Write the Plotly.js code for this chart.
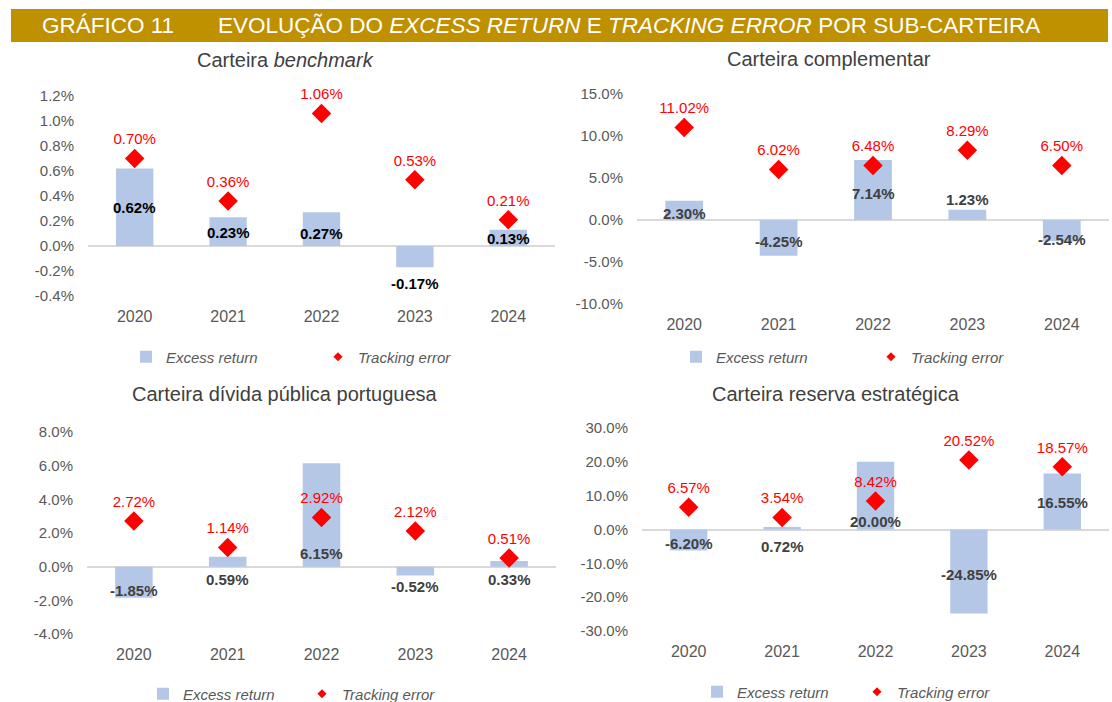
<!DOCTYPE html>
<html>
<head>
<meta charset="utf-8">
<script src="https://cdn.plot.ly/plotly-3.0.1.min.js"></script>
<style>
html,body{margin:0;padding:0;background:#fff;overflow:hidden;}
#chart{width:1112px;height:702px;}
</style>
</head>
<body>
<div id="chart"></div>
<script>
// ---------- DATA ----------
const years = ['2020', '2021', '2022', '2023', '2024'];

const erBenchmark = [0.62, 0.23, 0.27, -0.17, 0.13];
const teBenchmark = [0.70, 0.36, 1.06, 0.53, 0.21];

const erComplementar = [2.30, -4.25, 7.14, 1.23, -2.54];
const teComplementar = [11.02, 6.02, 6.48, 8.29, 6.50];

const erDivida = [-1.85, 0.59, 6.15, -0.52, 0.33];
const teDivida = [2.72, 1.14, 2.92, 2.12, 0.51];

const erReserva = [-6.20, 0.72, 20.00, -24.85, 16.55];
const teReserva = [6.57, 3.54, 8.42, 20.52, 18.57];

const ticksBenchmark = [-0.4, -0.2, 0.0, 0.2, 0.4, 0.6, 0.8, 1.0, 1.2];
const ticksComplementar = [-10, -5, 0, 5, 10, 15];
const ticksDivida = [-4, -2, 0, 2, 4, 6, 8];
const ticksReserva = [-30, -20, -10, 0, 10, 20, 30];

const panelTitles = ['Carteira <i>benchmark</i>', 'Carteira complementar',
  'Carteira dívida pública portuguesa', 'Carteira reserva estratégica'];
const seriesNames = ['<i>Excess return</i>', '<i>Tracking error</i>'];
const mainTitleLeft = 'GRÁFICO 11';
const mainTitleRight = 'EVOLUÇÃO DO <i>EXCESS RETURN</i> E <i>TRACKING ERROR</i> POR SUB-CARTEIRA';

// ---------- STYLE / LAYOUT CONFIG ----------
const W = 1112, H = 702;
const px = v => v / W;
const py = v => 1 - v / H;

const panels = [
  { er: erBenchmark, te: teBenchmark, ticks: ticksBenchmark, dec: 1,
    xd: [88, 555], yd: [96, 296], titleX: 285, titleY: 60, erColor: '#000000',
    shifts: [0, -1, -4, -27, -1], legX: 148, legY: 357, legW: 147 },
  { er: erComplementar, te: teComplementar, ticks: ticksComplementar, dec: 1,
    xd: [637, 1109], yd: [94, 304], titleX: 829, titleY: 59, erColor: '#404040',
    shifts: [-3, -4, -3, 15, -9], legX: 698, legY: 357, legW: 150 },
  { er: erDivida, te: teDivida, ticks: ticksDivida, dec: 1,
    xd: [87, 556], yd: [432, 634], titleX: 285, titleY: 394, erColor: '#404040',
    shifts: [-8, -18, -39, -15, -16], legX: 165, legY: 694, legW: 114 },
  { er: erReserva, te: teReserva, ticks: ticksReserva, dec: 1,
    xd: [642, 1109], yd: [428, 631], titleX: 836, titleY: 394, erColor: '#404040',
    shifts: [-4, -18, -26, -3, -1], legX: 719, legY: 692, legW: 115 }
];

const barColor = '#B4C7E7';
const red = '#FF0000';
const gold = '#BF9000';
const FONT = 'Liberation Sans, Arial, sans-serif';

const traces = [];
const layout = {
  width: W, height: H,
  margin: { l: 0, r: 0, t: 0, b: 0, autoexpand: false },
  paper_bgcolor: '#ffffff', plot_bgcolor: '#ffffff',
  showlegend: true,
  bargap: 0.6,
  font: { family: FONT, color: '#595959', size: 15 },
  annotations: [],
  shapes: []
};

const fmt = (v, d) => v.toFixed(d) + '%';

panels.forEach((p, i) => {
  const n = i + 1;
  const xa = 'x' + (n === 1 ? '' : n);
  const ya = 'y' + (n === 1 ? '' : n);
  const legName = 'legend' + (n === 1 ? '' : n);

  traces.push({
    type: 'bar', x: years, y: p.er, xaxis: xa, yaxis: ya,
    name: seriesNames[0], marker: { color: barColor },
    hoverinfo: 'skip', legend: legName, showlegend: true
  });
  traces.push({
    type: 'scatter', mode: 'markers+text', x: years, y: p.te, xaxis: xa, yaxis: ya,
    name: seriesNames[1], marker: { symbol: 'diamond', size: 15, color: red },
    text: p.te.map(v => fmt(v, 2)), textposition: 'top center',
    textfont: { family: FONT, size: 15, color: red },
    cliponaxis: false, hoverinfo: 'skip', legend: legName, showlegend: false
  });
  // legend-only entry with small diamond
  traces.push({
    type: 'scatter', mode: 'markers', x: [null], y: [null], xaxis: xa, yaxis: ya,
    name: seriesNames[1], marker: { symbol: 'diamond', size: 7, color: red },
    hoverinfo: 'skip', legend: legName, showlegend: true
  });

  const xKey = 'xaxis' + (n === 1 ? '' : n);
  const yKey = 'yaxis' + (n === 1 ? '' : n);
  layout[xKey] = {
    domain: [px(p.xd[0]), px(p.xd[1])], anchor: ya, type: 'category',
    categoryarray: years, categoryorder: 'array',
    range: [-0.5, years.length - 0.5],
    showgrid: false, zeroline: false, showline: false,
    ticks: 'outside', ticklen: 6, tickcolor: 'rgba(0,0,0,0)',
    tickfont: { family: FONT, size: 16, color: '#595959' }, fixedrange: true
  };
  layout[yKey] = {
    domain: [py(p.yd[1]), py(p.yd[0])], anchor: xa,
    range: [p.ticks[0], p.ticks[p.ticks.length - 1]],
    tickvals: p.ticks, ticktext: p.ticks.map(v => fmt(v, p.dec)),
    showgrid: false, zeroline: true, zerolinecolor: '#D9D9D9', zerolinewidth: 2,
    showline: false, ticks: 'outside', ticklen: 10, tickcolor: 'rgba(0,0,0,0)',
    tickfont: { family: FONT, size: 15, color: '#595959' }, fixedrange: true
  };
  layout[legName] = {
    orientation: 'h', x: px(p.legX - 22), xanchor: 'left',
    y: py(p.legY), yanchor: 'middle', entrywidth: p.legW,
    bgcolor: 'rgba(0,0,0,0)',
    font: { family: FONT, size: 15, color: '#595959', style: 'italic' }
  };

  // panel title
  layout.annotations.push({
    xref: 'paper', yref: 'paper', x: px(p.titleX), y: py(p.titleY),
    xanchor: 'center', yanchor: 'middle', showarrow: false,
    text: panelTitles[i],
    font: { family: FONT, size: 20, color: '#404040' }
  });
  // excess return labels (x given as category index)
  p.er.forEach((v, k) => {
    layout.annotations.push({
      xref: xa, yref: ya, x: k, y: v / 2, yshift: p.shifts[k],
      xanchor: 'center', yanchor: 'middle', showarrow: false,
      text: '<b>' + fmt(v, 2) + '</b>',
      font: { family: FONT, size: 15, color: p.erColor }
    });
  });
});

// main title bar
layout.shapes.push({
  type: 'rect', xref: 'paper', yref: 'paper',
  x0: px(11), x1: px(1108), y0: py(42), y1: py(9),
  fillcolor: gold, line: { width: 0 }, layer: 'below'
});
const titleFont = { family: 'Liberation Sans Narrow, Arial Narrow, Liberation Sans, sans-serif', size: 22.5, color: '#ffffff' };
layout.annotations.push({
  xref: 'paper', yref: 'paper', x: px(40), y: py(26), xanchor: 'left', yanchor: 'middle',
  showarrow: false, text: mainTitleLeft, font: titleFont
});
layout.annotations.push({
  xref: 'paper', yref: 'paper', x: px(216), y: py(26), xanchor: 'left', yanchor: 'middle',
  showarrow: false, text: mainTitleRight, font: titleFont
});

Plotly.newPlot('chart', traces, layout, { staticPlot: true, displayModeBar: false });
</script>
</body>
</html>
